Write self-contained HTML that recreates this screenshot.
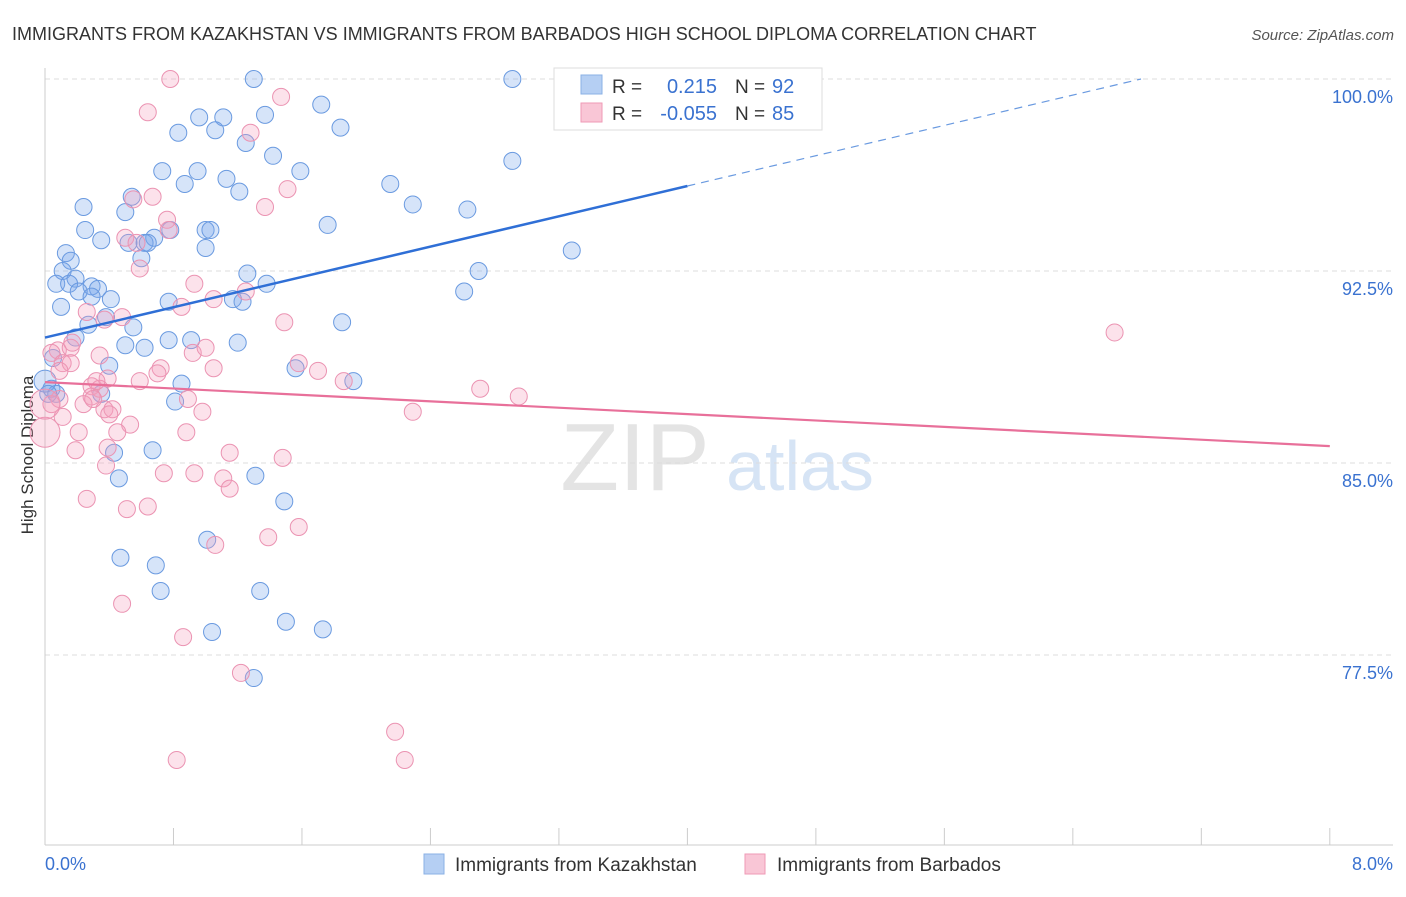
<!DOCTYPE html>
<html><head><meta charset="utf-8"><style>
body{margin:0;background:#fff;font-family:"Liberation Sans",sans-serif;}
svg text{font-family:"Liberation Sans",sans-serif;}
</style></head><body>
<svg id="chart" width="1406" height="892" xmlns="http://www.w3.org/2000/svg">
<text x="12" y="40" font-size="18" fill="#333">IMMIGRANTS FROM KAZAKHSTAN VS IMMIGRANTS FROM BARBADOS HIGH SCHOOL DIPLOMA CORRELATION CHART</text>
<text x="1394" y="40" font-size="15" fill="#555" text-anchor="end" font-style="italic">Source: ZipAtlas.com</text>
<text transform="translate(33,455) rotate(-90)" font-size="17" fill="#333" text-anchor="middle">High School Diploma</text>
<g><text x="635" y="490" font-size="96" fill="#e4e4e4" font-family="Liberation Serif" text-anchor="middle">ZIP</text><text x="800" y="490" font-size="70" fill="#d6e4f5" text-anchor="middle">atlas</text></g>
<g id="grid"></g><g id="marks"></g><g id="lines"></g>
<g>
<rect x="554" y="68" width="268" height="62" fill="#fff" stroke="#ddd"/>
<rect x="581" y="75" width="21" height="19" fill="#b5cff3" stroke="#8ab0e6"/>
<rect x="581" y="103" width="21" height="19" fill="#f9c6d6" stroke="#ef9ab6"/>
<text x="612" y="93" font-size="19" fill="#333">R =</text><text x="717" y="93" font-size="20" fill="#3a72d0" text-anchor="end">0.215</text>
<text x="735" y="93" font-size="19" fill="#333">N =</text><text x="772" y="93" font-size="20" fill="#3a72d0">92</text>
<text x="612" y="120" font-size="19" fill="#333">R =</text><text x="717" y="120" font-size="20" fill="#3a72d0" text-anchor="end">-0.055</text>
<text x="735" y="120" font-size="19" fill="#333">N =</text><text x="772" y="120" font-size="20" fill="#3a72d0">85</text>
</g>
<g>
<rect x="424" y="854" width="20" height="20" fill="#b5cff3" stroke="#8ab0e6"/><text x="455" y="871" font-size="19" fill="#333">Immigrants from Kazakhstan</text>
<rect x="745" y="854" width="20" height="20" fill="#f9c6d6" stroke="#ef9ab6"/><text x="777" y="871" font-size="19" fill="#333">Immigrants from Barbados</text>
</g>
</svg>
<script>
const xTicks=[0,8];
const yTicks=[100,92.5,85,77.5];
const blueX=[1.30,2.91,1.72,0.96,1.11,1.37,1.84,0.83,1.06,1.25,1.42,2.91,0.73,0.95,1.59,0.87,1.13,1.21,2.15,0.54,0.24,0.50,2.29,2.63,1.76,0.25,0.78,1.00,1.03,0.35,0.68,0.52,0.62,0.64,1.00,3.28,0.13,0.16,0.60,0.11,0.19,1.26,2.70,0.07,0.15,0.29,0.33,1.38,0.21,0.29,0.41,1.17,1.23,0.77,2.61,0.10,0.38,0.55,0.27,1.85,0.19,0.77,0.91,1.20,0.50,0.62,0.05,0.40,1.56,1.92,0.85,0.04,0.07,0.35,0.81,0.43,0.67,1.31,0.46,1.49,1.01,0.47,0.69,0.72,1.34,1.04,1.50,1.73,1.30,0.0,0.02];
const blueY=[100,100,99.0,98.5,98.5,98.6,98.1,97.9,98.0,97.5,97.0,96.8,96.4,96.4,96.4,95.9,96.1,95.6,95.9,95.4,95.0,94.8,95.1,94.9,94.3,94.1,94.1,94.1,94.1,93.7,93.8,93.6,93.6,93.6,93.4,93.3,93.2,92.9,93.0,92.5,92.2,92.4,92.5,92.0,92.0,91.9,91.8,92.0,91.7,91.5,91.4,91.4,91.3,91.3,91.7,91.1,90.7,90.3,90.4,90.5,89.9,89.8,89.8,89.7,89.6,89.5,89.1,88.8,88.7,88.2,88.1,87.9,87.7,87.7,87.4,85.4,85.5,84.5,84.4,83.5,82.0,81.3,81.0,80.0,80.0,78.4,78.8,78.5,76.6,88.2,87.7];
const pinkX=[0.78,1.47,0.64,1.28,0.67,1.51,1.37,0.55,0.76,0.77,0.50,0.57,0.59,0.93,1.25,1.05,0.85,0.26,0.48,1.49,0.37,0.08,0.16,0.17,0.34,0.04,0.11,0.16,0.92,1.00,0.72,0.70,1.58,1.70,1.05,0.59,0.39,0.29,0.34,0.29,0.89,1.86,2.71,2.95,2.29,0.24,0.09,0.04,0.37,0.42,0.98,0.53,0.45,0.21,0.88,0.11,0.19,0.39,1.15,1.48,0.38,0.74,0.93,1.11,1.15,0.26,0.51,0.64,1.58,1.39,1.06,0.48,0.86,1.22,2.18,2.24,0.82,6.66,0.30,0.40,0.09,0.32,0.0,0.0];
const pinkY=[100,99.3,98.7,97.9,95.4,95.7,95.0,95.3,94.5,94.1,93.8,93.6,92.6,92.0,91.7,91.4,91.1,90.9,90.7,90.5,90.6,89.4,89.5,89.7,89.2,89.3,88.9,88.9,89.3,89.5,88.7,88.5,88.9,88.6,88.7,88.2,88.3,88.0,87.9,87.6,87.5,88.2,87.9,87.6,87.0,87.3,87.5,87.3,87.1,87.1,87.0,86.5,86.2,86.2,86.2,86.8,85.5,85.6,85.4,85.2,84.9,84.6,84.6,84.4,84.0,83.6,83.2,83.3,82.5,82.1,81.8,79.5,78.2,76.8,74.5,73.4,73.4,90.1,87.5,86.9,88.6,88.2,86.2,87.3];
const blueTrend=[89.9,95.82]; // values at x=0 and x=4
const pinkTrend=[88.16,85.66]; // values at x=0 and x=8
const NS="http://www.w3.org/2000/svg";
const X=v=>45+v*160.6, Y=v=>79+(100-v)*25.6;
function mk(tag,attrs,parent){const e=document.createElementNS(NS,tag);for(const k in attrs)e.setAttribute(k,attrs[k]);parent.appendChild(e);return e;}
const grid=document.getElementById('grid');
yTicks.forEach(t=>{
 const l=mk('line',{x1:45,x2:1393,y1:Y(t),y2:Y(t),stroke:'#ddd','stroke-dasharray':'5,4'},grid);
 
 
 const tx=mk('text',{x:1393,y:Y(t)+24,'font-size':18,fill:'#3a72d0','text-anchor':'end'},grid);tx.textContent=t.toFixed(1)+'%';
 
 
});
const ax=mk('line',{x1:45,x2:45,y1:68,y2:845,stroke:'#ccc'},grid);


const bx=mk('line',{x1:45,x2:1393,y1:845,y2:845,stroke:'#ccc'},grid);


for(let i=0;i<=10;i++){const t=mk('line',{x1:X(i*0.8),x2:X(i*0.8),y1:828,y2:845,stroke:'#ccc'},grid);
 
 }
xTicks.forEach((t,i)=>{const tx=mk('text',{x:i?1393:45,y:870,'font-size':18,fill:'#3a72d0','text-anchor':i?'end':'start'},grid);tx.textContent=t.toFixed(1)+'%';
 
 });
const marks=document.getElementById('marks');
function pts(xs,ys,fill,stroke,name){xs.forEach((x,i)=>{const big=(x===0);const c=mk('circle',{cx:X(x),cy:Y(ys[i]),r:big?(name==='pink-point'?15:11):8.5,fill:fill,stroke:stroke,'stroke-width':1},marks);
 
 });}
pts(blueX,blueY,'rgba(120,165,235,0.3)','#6a9ae0','blue-point');
pts(pinkX,pinkY,'rgba(245,160,190,0.3)','#eb93b2','pink-point');
const lines=document.getElementById('lines');
const slope=(blueTrend[1]-blueTrend[0])/4;
const b1=mk('line',{x1:X(0),y1:Y(blueTrend[0]),x2:X(4),y2:Y(blueTrend[1]),stroke:'#2f6fd6','stroke-width':2.5},lines);


const xEnd=(100-blueTrend[0])/slope;
const b2=mk('line',{x1:X(4),y1:Y(blueTrend[1]),x2:X(xEnd),y2:Y(100),stroke:'#6a9ae0','stroke-width':1.2,'stroke-dasharray':'8,6'},lines);


const p1=mk('line',{x1:X(0),y1:Y(pinkTrend[0]),x2:X(8),y2:Y(pinkTrend[1]),stroke:'#e8709a','stroke-width':2.2},lines);


</script>
</body></html>
